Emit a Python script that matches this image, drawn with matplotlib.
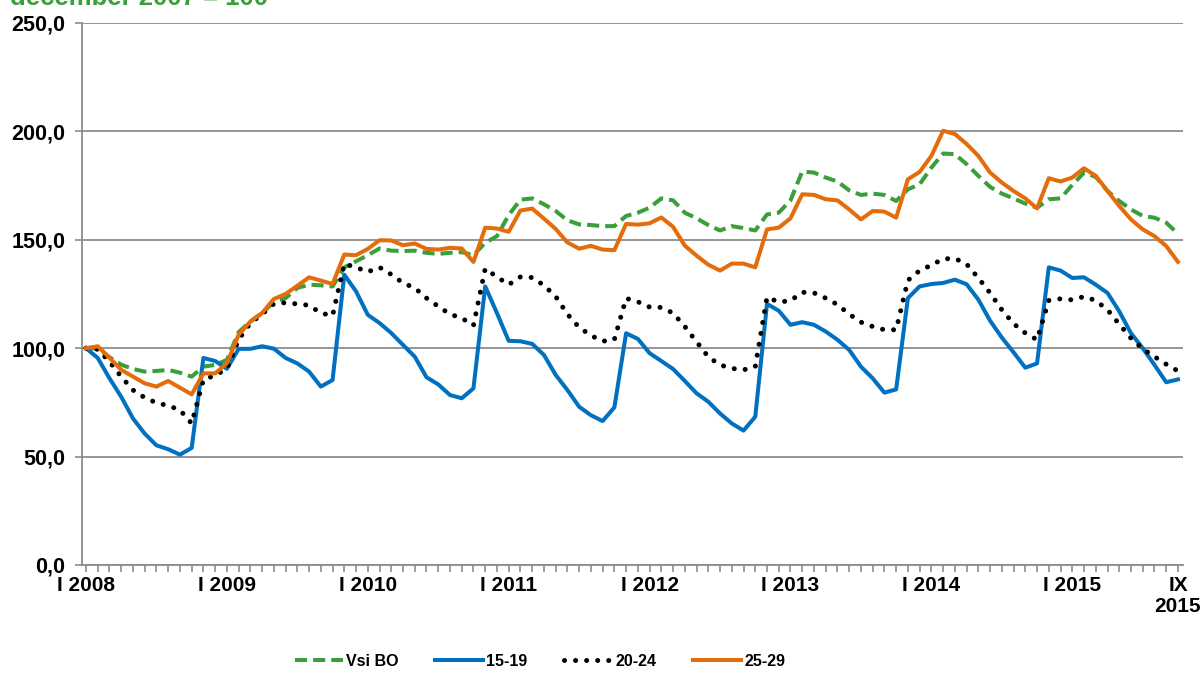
import numpy as np
import matplotlib
matplotlib.use('Agg')
import matplotlib.pyplot as plt
from matplotlib import font_manager

# Index, december 2007 = 100; monthly values XII 2007 .. IX 2015
vsi_bo = [100, 99.8, 95.8, 92.4, 90.4, 89.2, 89.5, 90, 88.7, 86.9, 91.5, 92.3,
          94.6, 107.4, 112.3, 116.2, 121.3, 123.1, 127.8, 129.3, 129, 128.5, 137.3, 140.1,
          142.9, 146, 145, 144.8, 145, 144, 143.5, 144, 144.3, 142.9, 148.6, 151.7,
          161.4, 168.5, 169.1, 166.4, 163.3, 159, 157.1, 156.8, 156.3, 156.3, 161, 162.5,
          164.8, 169.1, 168.2, 162.5, 159.9, 156.8, 154.3, 156.3, 155.4, 154.3, 161.7, 162.5,
          168.2, 181.5, 181, 178.7, 176.9, 172.8, 170.7, 171.3, 170.7, 167.9, 173.3, 175.6,
          183.3, 189.8, 189.5, 184.9, 179.5, 174.4, 171.3, 169.1, 166.7, 164.8, 168.7, 169.1,
          175.3, 181, 179, 172.5, 167.9, 164, 161, 160.2, 157.9, 152.8]
age_15_19 = [100, 95.5, 86.1, 77.6, 67.6, 60.6, 55.2, 53.4, 50.9, 54, 95.5, 94.1,
             90.5, 99.7, 99.7, 100.9, 99.8, 95.5, 93, 89.2, 82.3, 85.3, 133.9, 126.2,
             115.4, 111.6, 107, 101.5, 96.1, 86.6, 83.3, 78.4, 76.9, 81.5, 128.5, 116.2,
             103.4, 103.2, 102, 96.9, 87.7, 80.7, 73, 69.1, 66.4, 72.7, 106.9, 104.3,
             97.7, 94.1, 90.4, 84.9, 79.2, 75.3, 69.9, 65.3, 62, 68.4, 120.4, 117.3,
             110.8, 112, 110.8, 107.7, 103.9, 99.2, 91.5, 86.1, 79.5, 81, 123.1, 128.5,
             129.6, 130.1, 131.6, 129.5, 122.4, 112.7, 104.9, 98.1, 91, 93, 137.3, 135.8,
             132.4, 132.7, 129.3, 125.5, 117, 106.9, 100, 92.3, 84.3, 85.6]
age_20_24 = [100, 99.5, 93.8, 86.9, 80.7, 77.2, 74.8, 73.5, 71.5, 65.3, 85.5, 87.5,
             90.5, 104, 111.6, 115.7, 120.5, 121, 120.4, 119.8, 116.2, 115, 138.9, 137.3,
             135.2, 137.3, 134, 130.1, 127.8, 123.1, 119.3, 115.7, 113.9, 110.5, 136.7, 132.9,
             129.3, 132.9, 132.6, 129, 123.9, 115.7, 109.6, 105.9, 103.2, 104, 123, 121.4,
             119, 118.8, 116.2, 110, 103, 96, 92.3, 90.7, 90, 91.5, 123.5, 121.3,
             121.9, 125.8, 125.5, 123.1, 120.1, 115.7, 112, 110, 108.5, 108.5, 131.3, 135.8,
             138.3, 141.2, 141.4, 138.8, 132.4, 125.5, 117.7, 111.3, 107, 103.9, 122, 122.8,
             122.3, 123.8, 122, 117.7, 111.1, 104.6, 99.7, 96.1, 92.6, 89.5]
age_25_29 = [100, 100.9, 95.6, 90, 86.9, 83.8, 82.3, 84.9, 81.8, 78.7, 88.4, 88.4,
             93, 106.2, 112.3, 116.2, 122.7, 125, 128.8, 132.7, 131.2, 129.6, 143.2, 142.9,
             145.8, 149.8, 149.7, 147.5, 148.3, 145.8, 145.5, 146.3, 146, 139.8, 155.6, 155.2,
             153.7, 163.5, 164.4, 159.8, 155, 148.8, 145.9, 147.2, 145.5, 145.2, 157.3, 157,
             157.6, 160.3, 156, 147.3, 142.7, 138.5, 135.8, 139, 139, 137.3, 154.8, 155.6,
             159.9, 171, 170.7, 168.7, 168.2, 164, 159.4, 163.3, 163, 160.2, 177.9, 181.3,
             188.7, 200.3, 198.8, 194.2, 188.7, 181, 176.4, 172.5, 169.1, 164.5, 178.4, 176.9,
             178.7, 183, 179.5, 172.5, 165.6, 159.4, 154.8, 151.7, 147.1, 139.8]

tick_pos = [0, 12, 24, 36, 48, 60, 72, 84, 93]
tick_labels = ['I 2008', 'I 2009', 'I 2010', 'I 2011', 'I 2012', 'I 2013',
               'I 2014', 'I 2015', 'IX\n2015']
y_ticks = [0, 50, 100, 150, 200, 250]

GREEN = '#3A9E3A'
BLUE = '#0070C0'
ORANGE = '#E46C0A'
GRID = '#8C8C8C'

plt.rcParams['font.family'] = ['Liberation Sans', 'DejaVu Sans']

# legend in the reference uses a narrow bold face
installed = {f.name for f in font_manager.fontManager.ttflist}
if 'Liberation Sans Narrow' in installed:
    leg_prop = {'family': 'Liberation Sans Narrow', 'weight': 'bold', 'size': 13}
    leg_kw = dict(handlelength=2.6, handletextpad=0.2, columnspacing=2.2)
else:
    leg_prop = {'family': 'Liberation Sans', 'weight': 'bold', 'size': 11.5}
    leg_kw = dict(handlelength=3.0, handletextpad=0.2, columnspacing=2.3)

W, H = 1203, 673
fig = plt.figure(figsize=(W / 100, H / 100), dpi=100)
ax = fig.add_axes([82 / W, 1 - 565 / H, 1101 / W, 542 / H])

x = np.arange(len(vsi_bo))
ax.plot(x, vsi_bo, color=GREEN, lw=2.9, ls=(0, (3.0, 1.5)), label='Vsi BO')
ax.plot(x, age_15_19, color=BLUE, lw=2.9, label='15-19')
ax.plot(x, age_20_24, color='black', lw=3.6, ls=(0, (0.01, 2.2)),
        dash_capstyle='round', label='20-24')
ax.plot(x, age_25_29, color=ORANGE, lw=2.9, label='25-29')

ax.set_xlim(-0.34, 93.43)
ax.set_ylim(0, 250)

ax.set_yticks(y_ticks)
ax.set_yticklabels([f'{v:.1f}'.replace('.', ',') for v in y_ticks],
                   fontsize=15.5, fontweight='bold')
ax.yaxis.grid(True, color=GRID, lw=1.3)
ax.set_axisbelow(True)

ax.set_xticks(tick_pos)
ax.set_xticklabels(tick_labels, fontsize=15, fontweight='bold',
                   linespacing=1.1)
ax.set_xticks(np.arange(0, 94), minor=True)
ax.tick_params(axis='x', which='both', length=5, color=GRID, width=1.2,
               pad=3)
ax.tick_params(axis='y', length=5, color=GRID, width=1.2, pad=7)

for side in ('top', 'right'):
    ax.spines[side].set_visible(False)
for side in ('left', 'bottom'):
    ax.spines[side].set_color(GRID)
    ax.spines[side].set_linewidth(1.3)

fig.legend(loc='center', bbox_to_anchor=(540 / W, 1 - 661 / H), ncol=4,
           frameon=False, prop=leg_prop, **leg_kw)

fig.text(0.008, 1 - 5 / H, 'december 2007 = 100', color=GREEN,
         fontsize=18.5, fontweight='bold', va='baseline', ha='left')

fig.savefig('out.png', dpi=100)
